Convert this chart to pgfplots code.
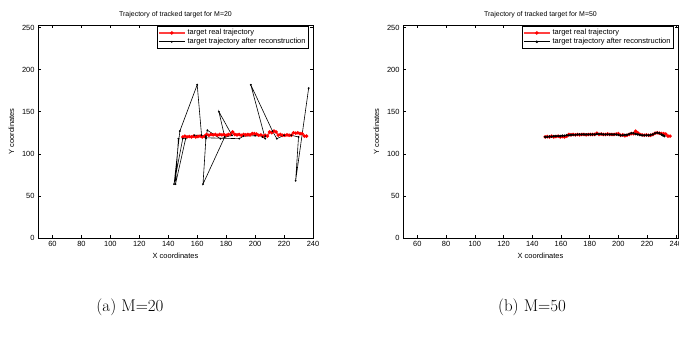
\documentclass[border=0pt]{standalone}
\usepackage{fontspec}
\usepackage{pgfplots}
\pgfplotsset{compat=1.18}
\newfontfamily\arial{Liberation Sans}
\pgfplotstableread{
x y
150 120
151.5 121
153 120
154.5 120.5
156 120
157.5 121
159 120
160.5 120.5
162 121
163.5 120
165 121
166.5 123
168 122
169.5 123
171 122.5
172.5 123
174 122
175.5 123
177 122.5
178.5 123
180 122
181.5 123
183 123
184.5 126
186 123
187.5 122.5
189 123
190.5 122
192 123
193.5 122.5
195 123
196.5 122.5
198 124
199.5 124
201 123.5
202.5 122
204 122.5
205.5 121
207 122
208.5 121
210 126
211.5 125
213 127
214.5 126
216 122
217.5 123
219 122
220.5 122
222 122.5
223.5 122
225 122
226.5 125
228 124.5
229.5 125
231 124
232.5 124
234 121
235.5 121
}\realA
\pgfplotstableread{
x y
147 118
145 64
152 118
150 118
144 64
148 127
160 182
163 122
158 122
166 121
166 118
164 64
179 120
175 150
184 122
176 118
167 128
166 119
189 118
192 121
200 121.5
207 121
205 120
207 118
197 182
212 127
215 118
220 122
225 122
230 120
228 68
237 178
}\recA
\pgfplotstableread{
x y
149 120
150.5 120.5
152 120
153.5 121
155 120
156.5 120.5
158 121
159.5 120
161 120.5
162.5 120
164 121
165.5 123
167 122.5
168.5 123
170 122.5
171.5 123
173 122.5
174.5 123
176 123
177.5 122.5
179 123
180.5 123
182 123
183.5 123
185 124.5
186.5 123
188 123.5
189.5 123
191 123
192.5 123.5
194 123
195.5 123
197 123
198.5 123.5
200 124
201.5 122
203 122.5
204.5 121.5
206 122
207.5 123
209 124
210.5 124
212 127
213.5 125
215 123
216.5 122.5
218 122
219.5 122.5
221 122
222.5 122
224 123
225.5 124.5
227 125
228.5 124.5
230 124
231.5 124
233 123.5
234.5 121
236 121
}\realB
\pgfplotstableread{
x y
149 120
150.5 120
152 120.5
153.5 120.5
155 121
156.5 121
158 121
159.5 121
161 121.5
162.5 121.5
164 122
165.5 122
167 122.5
168.5 122.5
170 122.5
171.5 123
173 123
174.5 123
176 123
177.5 123
179 123
180.5 123
182 123
183.5 123
185 123.5
186.5 123.5
188 123.5
189.5 123
191 123
192.5 123
194 123
195.5 123
197 123
198.5 123
200 122.5
201.5 122
203 122
204.5 122.5
206 122.5
207.5 123.5
209 124.5
210.5 124.5
212 123.5
213.5 123
215 122.5
216.5 122
218 122
219.5 122
221 122
222.5 122.5
224 123
225.5 124.5
227 125
228.5 124.5
230 123
231 122
232 121
}\recB
\pgfplotsset{
  traj/.style={
    scale only axis, width=275bp, height=213bp,
    xmin=50, ymin=0, ymax=253,
    xtick={60,80,...,240}, ytick={0,50,...,250},
    tick align=inside, major tick length=3bp,
    axis line style={line width=0.9bp},
    every tick/.style={black, line width=0.5bp},
    /pgf/number format/assume math mode=true,
    ticklabel style={font=\arial\fontsize{7.5}{9}\selectfont},
    xlabel={X coordinates}, ylabel={Y coordinates},
    label style={font=\arial\fontsize{7.5}{9}\selectfont},
    xlabel style={yshift=1bp},
    ylabel style={yshift=1bp},
    title style={font=\arial\fontsize{7}{8}\selectfont, yshift=-2bp},
    legend style={at={(1,1)}, anchor=north east, xshift=-4bp, yshift=-1bp,
      font=\arial\fontsize{7.5}{9}\selectfont, draw=black, line width=0.9bp,
      inner sep=1bp, row sep=-2pt},
    legend cell align=left,
    legend image code/.code={\draw[mark repeat=2,mark phase=2]
      plot coordinates {(0bp,0bp) (13bp,0bp) (26bp,0bp)};},
  },
  realst/.style={color=red!75!white, line width=1.6bp, mark=*, mark size=0.8bp,
    mark options={fill=red, draw=red}},
  recst/.style={color=black, line width=0.6bp, mark=*, mark size=0.6bp,
    mark options={fill=black}},
}
\begin{document}
\begin{tikzpicture}
\useasboundingbox (0bp,0bp) rectangle (679bp,-338bp);
\begin{axis}[traj, at={(38bp,-238bp)}, anchor=south west, xmax=240,
  title={Trajectory of tracked target for M=20}]
\addplot[realst] table[x=x,y=y] {\realA};
\addlegendentry{target real trajectory}
\addplot[recst] table[x=x,y=y] {\recA};
\addlegendentry{target trajectory after reconstruction}
\end{axis}
\begin{axis}[traj, at={(403bp,-238bp)}, anchor=south west, xmax=241.5,
  title={Trajectory of tracked target for M=50}]
\addplot[realst] table[x=x,y=y] {\realB};
\addlegendentry{target real trajectory}
\addplot[recst, line width=1bp, mark size=0.7bp] table[x=x,y=y] {\recB};
\addlegendentry{target trajectory after reconstruction}
\end{axis}
\node[font=\fontsize{17}{20}\selectfont] at (130bp,-307bp) {(a) M=20};
\node[font=\fontsize{17}{20}\selectfont] at (532bp,-307bp) {(b) M=50};
\end{tikzpicture}
\end{document}
